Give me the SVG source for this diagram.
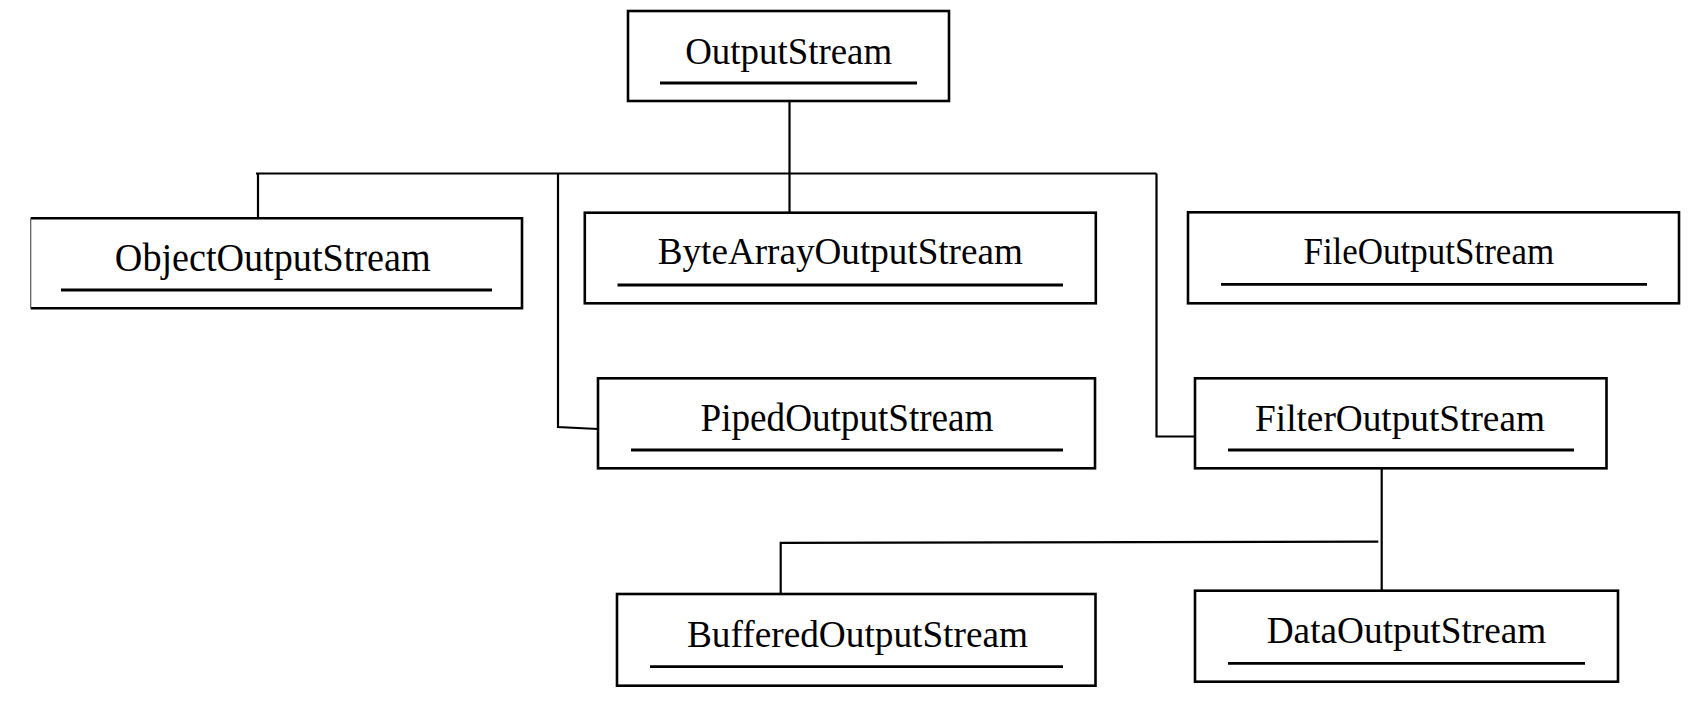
<svg xmlns="http://www.w3.org/2000/svg" width="1691" height="721" viewBox="0 0 1691 721">
<style>
.box{fill:#fff;stroke:#000;stroke-width:2.6}
.ul{stroke:#000;stroke-width:2.8}
.lbl{font-family:"Liberation Serif","Times New Roman",serif;font-size:37px;fill:#000;text-anchor:middle}
.conn{fill:none;stroke:#000;stroke-width:2.2}
</style>
<rect width="1691" height="721" fill="#fff"/>
<g id="connectors">
<line class="conn" x1="789.5" y1="101" x2="789.5" y2="212.7"/>
<line class="conn" x1="256" y1="173.5" x2="1156.5" y2="173.5"/>
<line class="conn" x1="258" y1="173.5" x2="258" y2="218.3"/>
<polyline class="conn" points="558,173.5 558,427 598,429"/>
<polyline class="conn" points="1156.5,173.5 1156.5,436.5 1195,436.5"/>
<line class="conn" x1="1381.7" y1="468.3" x2="1381.7" y2="590.7"/>
<polyline class="conn" points="1378.3,541.7 780.7,542.9 780.7,594"/>
</g>
<g id="OutputStream">
<rect class="box" x="628" y="11" width="321" height="90"/>
<text class="lbl" x="788.7" y="64" textLength="207" lengthAdjust="spacingAndGlyphs">OutputStream</text>
<line class="ul" x1="660" y1="83" x2="917" y2="83"/>
</g>
<g id="ObjectOutputStream">
<rect x="30.7" y="218.3" width="491.3" height="90" fill="#fff"/>
<path d="M30.7,218.3 H522 V308.3 H30.7" fill="none" stroke="#000" stroke-width="2.6"/>
<line x1="30.7" y1="218.3" x2="30.7" y2="308.3" stroke="#555" stroke-width="1.2"/>
<text class="lbl" transform="translate(272.7,271) scale(1,1.1)" textLength="315.7" lengthAdjust="spacingAndGlyphs">ObjectOutputStream</text>
<line class="ul" x1="61" y1="290" x2="492" y2="290"/>
</g>
<g id="ByteArrayOutputStream">
<rect class="box" x="584.8" y="212.7" width="511" height="90.6"/>
<text class="lbl" x="840.3" y="264" textLength="365" lengthAdjust="spacingAndGlyphs">ByteArrayOutputStream</text>
<line class="ul" x1="617.5" y1="285" x2="1063" y2="285"/>
</g>
<g id="FileOutputStream">
<rect class="box" x="1188" y="212.3" width="491" height="91"/>
<text class="lbl" x="1428.8" y="264" textLength="250.7" lengthAdjust="spacingAndGlyphs">FileOutputStream</text>
<line class="ul" x1="1221" y1="284.3" x2="1647" y2="284.3"/>
</g>
<g id="PipedOutputStream">
<rect class="box" x="598" y="378.3" width="497" height="90"/>
<text class="lbl" transform="translate(847,431) scale(1,1.1)" textLength="292.8" lengthAdjust="spacingAndGlyphs">PipedOutputStream</text>
<line class="ul" x1="631" y1="450" x2="1063" y2="450"/>
</g>
<g id="FilterOutputStream">
<rect class="box" x="1195" y="378.3" width="411.5" height="90"/>
<text class="lbl" x="1400" y="431" textLength="289.9" lengthAdjust="spacingAndGlyphs">FilterOutputStream</text>
<line class="ul" x1="1228" y1="450" x2="1574" y2="450"/>
</g>
<g id="BufferedOutputStream">
<rect class="box" x="617" y="594" width="478.5" height="91.7"/>
<text class="lbl" x="857.5" y="646.7" textLength="341" lengthAdjust="spacingAndGlyphs">BufferedOutputStream</text>
<line class="ul" x1="650" y1="666.7" x2="1063" y2="666.7"/>
</g>
<g id="DataOutputStream">
<rect class="box" x="1195" y="590.7" width="423" height="91"/>
<text class="lbl" x="1406.5" y="643.3" textLength="279.7" lengthAdjust="spacingAndGlyphs">DataOutputStream</text>
<line class="ul" x1="1228" y1="663.3" x2="1585" y2="663.3"/>
</g>
</svg>
